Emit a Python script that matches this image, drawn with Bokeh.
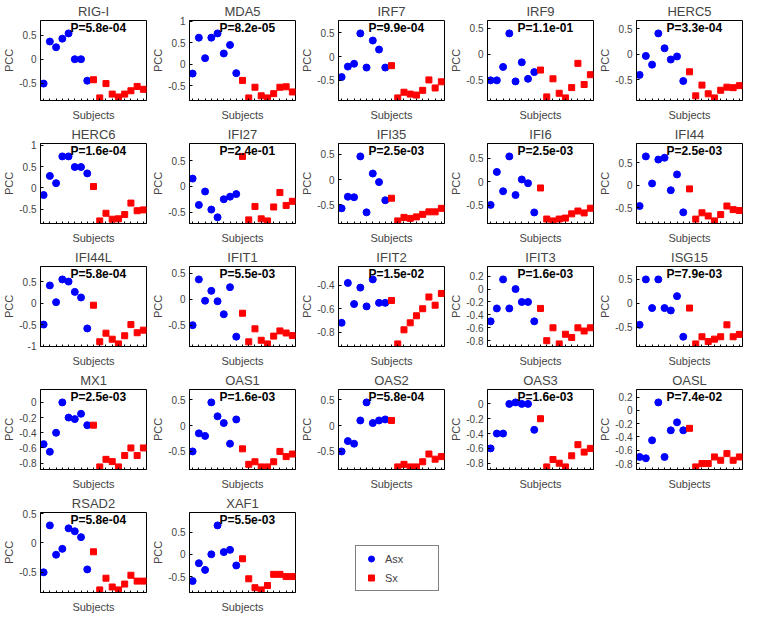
from bokeh.plotting import figure
from bokeh.layouts import column, row
from bokeh.models import (Range1d, FixedTicker, CustomJSTickFormatter, Label,
                          Legend, LegendItem)
from bokeh.embed import file_html
from bokeh.resources import INLINE

SUBJECTS = list(range(1, 18))
N_ASX = 8

GENES = ["RIG-I", "MDA5", "IRF7", "IRF9", "HERC5",
         "HERC6", "IFI27", "IFI35", "IFI6", "IFI44",
         "IFI44L", "IFIT1", "IFIT2", "IFIT3", "ISG15",
         "MX1", "OAS1", "OAS2", "OAS3", "OASL",
         "RSAD2", "XAF1"]

P_VALUES = ["5.8e-04", "8.2e-05", "9.9e-04", "1.1e-01", "3.3e-04",
            "1.6e-04", "2.4e-01", "2.5e-03", "2.5e-03", "2.5e-03",
            "5.8e-04", "5.5e-03", "1.5e-02", "1.6e-03", "7.9e-03",
            "2.5e-03", "1.6e-03", "5.8e-04", "1.6e-03", "7.4e-02",
            "5.8e-04", "5.5e-03"]

# PCC per subject: first 8 = Asx, last 9 = Sx
RIG_I = [-0.51, 0.37, 0.25, 0.43, 0.54, 0.00, 0.00, -0.45, -0.43, -0.81, -0.51, -0.73, -0.79, -0.73, -0.66, -0.57, -0.63]
MDA5 = [-0.22, 0.62, 0.14, 0.62, 0.72, 0.25, 0.45, -0.21, -0.38, -0.79, -0.54, -0.74, -0.79, -0.69, -0.54, -0.53, -0.65]
IRF7 = [-0.43, -0.21, -0.15, 0.49, -0.23, 0.34, 0.15, -0.23, -0.19, -0.87, -0.75, -0.79, -0.81, -0.71, -0.49, -0.66, -0.53]
IRF9 = [-0.51, -0.51, -0.25, 0.40, -0.53, -0.16, -0.48, -0.35, -0.31, -0.83, -0.48, -0.76, -0.85, -0.65, -0.18, -0.59, -0.40]
HERC5 = [-0.40, -0.03, -0.20, 0.41, 0.12, -0.10, -0.04, -0.52, -0.34, -0.81, -0.60, -0.77, -0.85, -0.70, -0.64, -0.65, -0.61]
HERC6 = [-0.17, 0.28, 0.11, 0.74, 0.74, 0.49, 0.49, 0.34, 0.03, -0.78, -0.60, -0.74, -0.73, -0.63, -0.36, -0.54, -0.52]
IFI27 = [0.15, -0.36, -0.10, -0.45, -0.60, -0.25, -0.20, -0.15, 0.58, -0.65, -0.39, -0.63, -0.67, -0.40, -0.12, -0.37, -0.29]
IFI35 = [-0.57, -0.34, -0.35, 0.46, -0.65, 0.12, -0.05, -0.41, -0.37, -0.82, -0.75, -0.77, -0.74, -0.69, -0.64, -0.64, -0.57]
IFI6 = [-0.49, 0.21, -0.20, 0.54, -0.28, 0.05, -0.03, -0.65, -0.13, -0.79, -0.83, -0.79, -0.77, -0.68, -0.62, -0.66, -0.56]
IFI44 = [-0.46, 0.64, 0.04, 0.57, 0.61, -0.11, 0.24, -0.60, -0.08, -0.75, -0.61, -0.68, -0.79, -0.65, -0.46, -0.54, -0.56]
IFI44L = [-0.50, 0.41, 0.02, 0.55, 0.50, 0.26, 0.13, -0.59, -0.05, -0.90, -0.70, -0.84, -0.95, -0.76, -0.50, -0.69, -0.63]
IFIT1 = [-0.50, 0.38, -0.03, 0.16, -0.04, -0.29, 0.23, -0.72, -0.27, -0.82, -0.57, -0.79, -0.86, -0.71, -0.61, -0.65, -0.70]
IFIT2 = [-0.72, -0.38, -0.56, -0.42, -0.58, -0.35, -0.55, -0.55, -0.53, -0.90, -0.78, -0.72, -0.66, -0.60, -0.50, -0.57, -0.47]
IFIT3 = [-0.50, -0.30, 0.15, -0.30, 0.00, -0.20, -0.20, -0.50, -0.30, -0.80, -0.60, -0.85, -0.70, -0.75, -0.60, -0.65, -0.60]
ISG15 = [-0.45, 0.50, -0.10, 0.50, -0.10, -0.15, 0.15, -0.70, -0.10, -0.85, -0.70, -0.80, -0.75, -0.70, -0.45, -0.70, -0.65]
MX1 = [-0.55, -0.65, -0.40, 0.00, -0.20, -0.22, -0.15, -0.30, -0.30, -0.85, -0.75, -0.78, -0.85, -0.70, -0.60, -0.70, -0.60]
OAS1 = [-0.50, -0.15, -0.20, 0.45, 0.18, 0.05, -0.35, 0.12, -0.45, -0.75, -0.70, -0.80, -0.80, -0.70, -0.50, -0.60, -0.55]
OAS2 = [-0.50, -0.30, -0.35, 0.10, 0.45, 0.05, 0.10, 0.12, 0.10, -0.80, -0.75, -0.80, -0.80, -0.70, -0.55, -0.65, -0.60]
OAS3 = [-0.60, -0.40, -0.40, 0.00, 0.02, 0.00, 0.00, -0.35, -0.20, -0.85, -0.75, -0.80, -0.85, -0.70, -0.55, -0.65, -0.60]
OASL = [-0.70, -0.72, -0.45, 0.12, -0.70, -0.30, -0.18, -0.30, -0.27, -0.85, -0.80, -0.80, -0.70, -0.75, -0.65, -0.75, -0.70]
RSAD2 = [-0.50, 0.30, -0.20, -0.10, 0.25, 0.20, 0.10, -0.45, -0.15, -0.80, -0.60, -0.75, -0.80, -0.70, -0.55, -0.65, -0.65]
XAF1 = [-0.60, -0.20, -0.35, 0.00, 0.65, 0.05, 0.10, -0.25, -0.10, -0.55, -0.75, -0.80, -0.70, -0.45, -0.45, -0.50, -0.50]

SERIES = [RIG_I, MDA5, IRF7, IRF9, HERC5, HERC6, IFI27, IFI35, IFI6, IFI44,
          IFI44L, IFIT1, IFIT2, IFIT3, ISG15, MX1, OAS1, OAS2, OAS3, OASL,
          RSAD2, XAF1]

YTICKS_HALF = [-1, -0.5, 0, 0.5, 1]
YTICKS_FIFTH = [-1, -0.8, -0.6, -0.4, -0.2, 0, 0.2, 0.4]
FIFTH_GENES = ["IFIT2", "IFIT3", "MX1", "OAS3", "OASL"]
LEGEND_LABELS = ["Asx", "Sx"]

FONT = "Liberation Sans"
W, H = 149, 123
BORDERS = dict(min_border_left=35, min_border_right=3, min_border_top=20,
               min_border_bottom=21)


def make_panel(name, vals, pval):
    lo, hi = min(vals), max(vals)
    rng = hi - lo
    y0, y1 = lo - 0.04 * rng, hi + 0.2 * rng
    p = figure(width=W, height=H, x_range=Range1d(0.5, 17.5), y_range=Range1d(y0, y1),
               output_backend="svg", toolbar_location=None, title=name, **BORDERS)
    p.title.text_font = FONT
    p.title.text_font_size = "13px"
    p.title.text_font_style = "normal"
    p.title.align = "center"
    p.title.standoff = 3
    p.title.offset = 0
    p.grid.visible = False
    p.outline_line_color = "black"
    p.outline_line_width = 1

    xa = p.xaxis[0]
    xa.ticker = FixedTicker(ticks=[], minor_ticks=SUBJECTS)
    xa.major_label_standoff = 0
    xa.minor_tick_in = 2
    xa.minor_tick_out = 0
    xa.minor_tick_line_color = "black"
    xa.axis_label = "Subjects"
    xa.axis_label_text_font = FONT
    xa.axis_label_text_font_size = "11px"
    xa.axis_label_text_font_style = "normal"
    xa.axis_label_standoff = 8
    xa.axis_line_color = "black"

    ya = p.yaxis[0]
    ya.ticker = FixedTicker(ticks=YTICKS_FIFTH if name in FIFTH_GENES else YTICKS_HALF)
    ya.formatter = CustomJSTickFormatter(code="return String(Math.round(tick*10)/10);")
    ya.major_label_text_font = FONT
    ya.major_label_text_font_size = "10px"
    ya.major_label_standoff = 4
    ya.major_tick_in = 3
    ya.major_tick_out = 0
    ya.minor_tick_line_color = None
    ya.axis_label = "PCC"
    ya.axis_label_text_font = FONT
    ya.axis_label_text_font_size = "11px"
    ya.axis_label_text_font_style = "normal"
    ya.axis_label_standoff = 1
    ya.axis_line_color = "black"

    p.scatter(SUBJECTS[:N_ASX], vals[:N_ASX], marker="circle", size=7,
              fill_color="#0000ff", line_color="#0000ff")
    p.scatter(SUBJECTS[N_ASX:], vals[N_ASX:], marker="square", size=6,
              fill_color="#ff0000", line_color="#ff0000")
    p.add_layout(Label(x=5.3, y=y1, text="P=" + pval, text_baseline="top",
                       text_align="left", text_font=FONT, text_font_size="12px",
                       text_font_style="bold", text_color="black"))
    return p


panels = [make_panel(g, s, pv) for g, s, pv in zip(GENES, SERIES, P_VALUES)]

# legend panel: no axes; its data lie outside the view, only the legend shows
lp = figure(width=W, height=H, x_range=Range1d(0.5, 17.5), y_range=Range1d(5, 6),
            output_backend="svg", toolbar_location=None,
            x_axis_location=None, y_axis_location=None,
            min_border_left=35, min_border_right=3, min_border_top=20,
            min_border_bottom=3)
lp.grid.visible = False
lp.outline_line_color = None
r1 = lp.scatter(SUBJECTS[:N_ASX], RSAD2[:N_ASX], marker="circle", size=7,
                fill_color="#0000ff", line_color="#0000ff")
r2 = lp.scatter(SUBJECTS[N_ASX:], RSAD2[N_ASX:], marker="square", size=6,
                fill_color="#ff0000", line_color="#ff0000")
leg = Legend(items=[LegendItem(label=LEGEND_LABELS[0], renderers=[r1]),
                    LegendItem(label=LEGEND_LABELS[1], renderers=[r2])],
             location=(22, 1), border_line_color="black", border_line_width=1,
             label_text_font=FONT, label_text_font_size="11px",
             glyph_width=20, glyph_height=15, spacing=4, padding=5,
             label_width=48, label_standoff=4, margin=0,
             background_fill_color="white", background_fill_alpha=1)
lp.add_layout(leg)

layout = column(row(*panels[0:5]), row(*panels[5:10]), row(*panels[10:15]),
                row(*panels[15:20]), row(panels[20], panels[21], lp))

open("out.html", "w").write(file_html(layout, INLINE))
